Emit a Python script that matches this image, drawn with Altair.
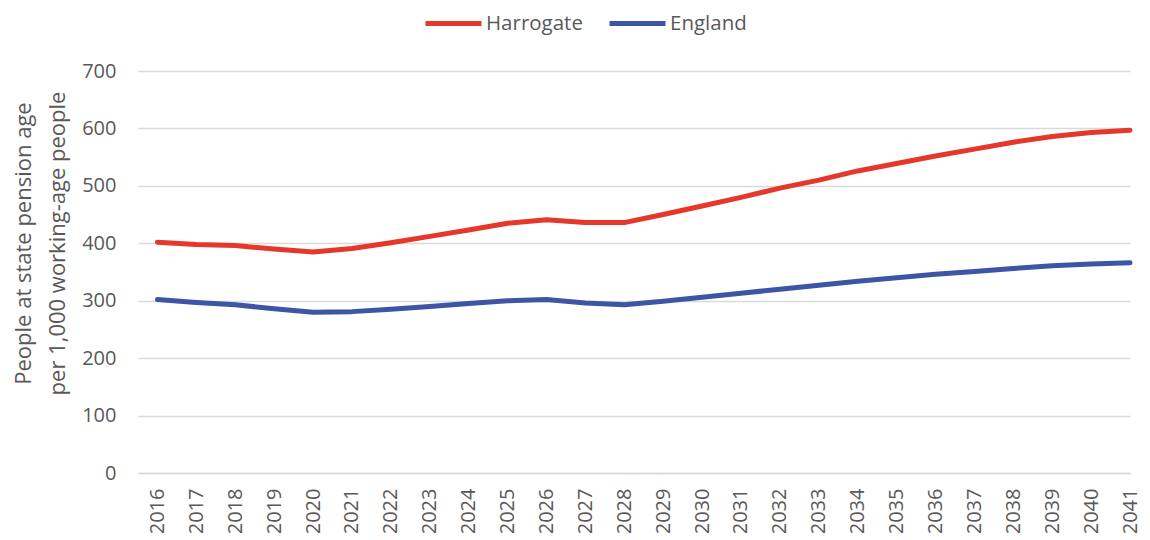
import altair as alt
import pandas as pd

years = list(range(2016, 2042))
harrogate = [402, 398, 396, 390, 385, 391, 401, 412, 423, 435, 441, 436, 436,
             450, 465, 480, 496, 510, 526, 539, 552, 564, 576, 586, 593, 597]
england = [302, 297, 293, 286, 280, 281, 285, 290, 295, 300, 302, 296, 293,
           299, 306, 313, 320, 327, 334, 340, 346, 351, 356, 361, 364, 366]
series_names = ["Harrogate", "England"]
colors = ["#E5372A", "#3C55A5"]

df = pd.DataFrame({
    "year": years * 2,
    "value": harrogate + england,
    "series": [series_names[0]] * len(years) + [series_names[1]] * len(years),
})

FONT = "Open Sans"
GREY = "#595959"

chart = alt.Chart(df).mark_line(strokeWidth=5, strokeCap="round", strokeJoin="round").encode(
    x=alt.X("year:Q",
            scale=alt.Scale(domain=[2015.5, 2041.0], nice=False, zero=False),
            axis=alt.Axis(values=years, format="d", labelAngle=-90, title=None,
                          grid=False, ticks=False, domainColor="#D9D9D9", domainWidth=1.5,
                          labelFontSize=20, labelColor=GREY, labelFont=FONT, labelPadding=15)),
    y=alt.Y("value:Q",
            scale=alt.Scale(domain=[0, 700], nice=False),
            axis=alt.Axis(values=list(range(0, 701, 100)), title=["People at state pension age", "per 1,000 working-age people"],
                          titleFontSize=22, titleFont=FONT, titleColor=GREY, titleFontWeight="normal",
                          titleLineHeight=34, titlePadding=12, titleY=172, domain=False, ticks=False,
                          gridColor="#D9D9D9", gridWidth=1.5,
                          labelFontSize=20, labelColor=GREY, labelFont=FONT, labelPadding=22)),
    color=alt.Color("series:N", scale=alt.Scale(domain=series_names, range=colors), sort=series_names,
                    legend=alt.Legend(orient="none", legendX=285, legendY=-78, direction="horizontal",
                                      title=None, symbolType="stroke", symbolSize=3136,
                                      symbolStrokeWidth=5, labelFontSize=20.5, labelFont=FONT,
                                      labelColor=GREY, labelOffset=2, columnPadding=16)),
).properties(
    width=992, height=402,
    autosize=alt.AutoSizeParams(type="none"),
    padding={"left": 130, "top": 63, "right": 12, "bottom": 60},
).configure_view(stroke=None)

chart.save("out.html", embed_options={"renderer": "svg", "actions": False})
